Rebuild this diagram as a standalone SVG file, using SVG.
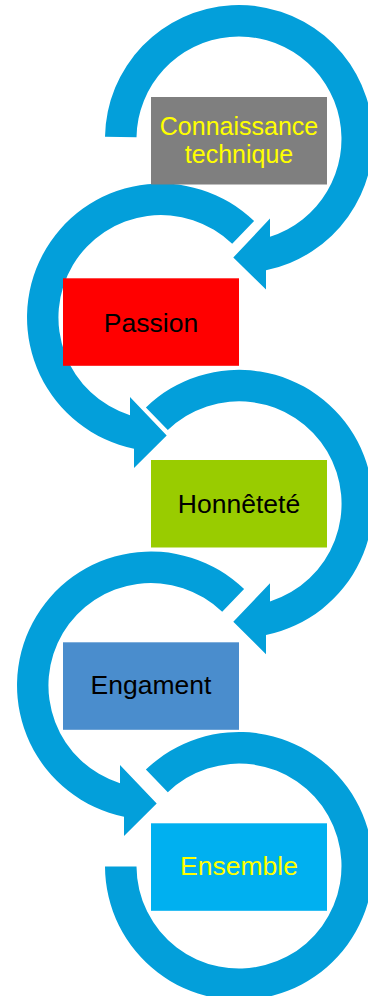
<svg xmlns="http://www.w3.org/2000/svg" width="368" height="996" viewBox="0 0 368 996">
<style>
.arc{fill:#039FDA;stroke:none}
.lbl{font-family:"Liberation Sans",Arial,sans-serif;font-size:26.5px;text-anchor:middle}
.two{font-size:25px}
.dark{fill:#000000}
.yel{fill:#FFFF00}
</style>
<rect width="368" height="996" fill="#FFFFFF"/>
<g id="connectors">
<path class="arc" d="M105,136.7 A134,134 0 1 1 266,270.25 L266,289.5 L233.3,257.5 L270,218.5 L270,236.7 A102.5,102.5 0 1 0 136.5,137.2 Z"/>
<path class="arc" d="M254.1,221.1 A134,134 0 1 0 134,448.75 L134,468 L166.7,435.5 L130,397 L130,415.2 A102.5,102.5 0 1 1 232.2,243.8 Z"/>
<path class="arc" d="M145.9,407.4 A134,134 0 1 1 266,635.05 L266,654.3 L233.3,621.8 L270,583.3 L270,601.5 A102.5,102.5 0 1 0 167.8,430.1 Z"/>
<path class="arc" d="M244.1,589.1 A134,134 0 1 0 124,816.75 L124,836 L156.7,803.5 L120,765 L120,783.2 A102.5,102.5 0 1 1 222.2,611.8 Z"/>
<path class="arc" d="M145.9,769.6 A134,134 0 1 1 105,866.5 L136.5,866.5 A102.5,102.5 0 1 0 167.8,792.3 Z"/>
</g>
<g id="node1">
<rect x="151" y="97" width="176" height="87.5" fill="#7F7F7F"/>
<text class="lbl two yel" x="239" y="134.5"><tspan x="239" y="134.5">Connaissance</tspan><tspan x="239" y="162.7">technique</tspan></text>
</g>
<g id="node2">
<rect x="63" y="278.3" width="176" height="87.5" fill="#FF0000"/>
<text class="lbl dark" x="151" y="331.5">Passion</text>
</g>
<g id="node3">
<rect x="151" y="460" width="176" height="87.5" fill="#99CC00"/>
<text class="lbl dark" x="239" y="512.8">Honnêteté</text>
</g>
<g id="node4">
<rect x="63" y="642.3" width="176" height="87.5" fill="#4A8DCD"/>
<text class="lbl dark" x="151" y="693.5">Engament</text>
</g>
<g id="node5">
<rect x="151" y="823.3" width="176" height="87.5" fill="#00B0F0"/>
<text class="lbl yel" x="239" y="875">Ensemble</text>
</g>
</svg>
